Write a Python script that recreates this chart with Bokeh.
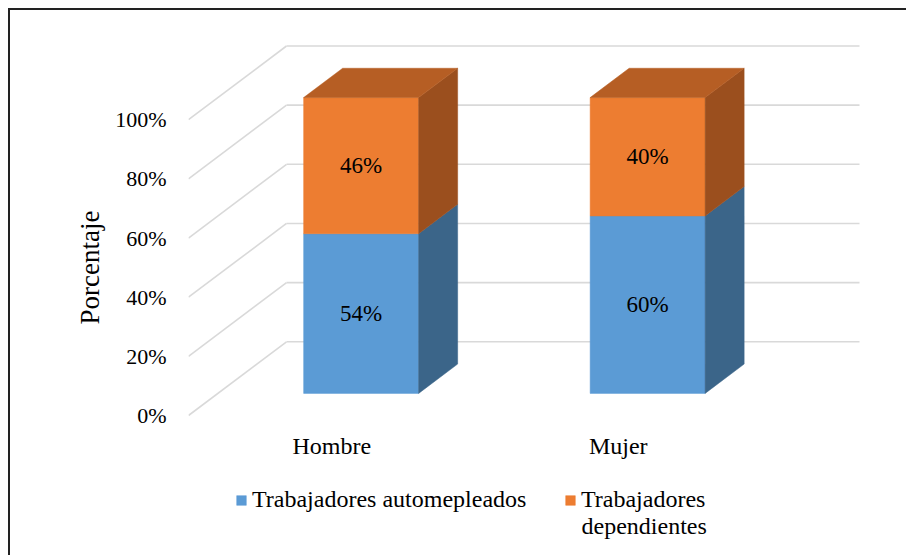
from bokeh.plotting import figure
from bokeh.models import (Range1d, FixedTicker, PrintfTickFormatter, Title,
                          Legend, LegendItem)
from bokeh.core.properties import value
from bokeh.embed import file_html
from bokeh.resources import INLINE

# ---------------- data ----------------
categories = ["Hombre", "Mujer"]
series_names = ["Trabajadores automepleados", "Trabajadores\ndependientes"]
automepleados = [54, 60]
dependientes = [46, 40]
y_ticks = [0, 20, 40, 60, 80, 100]

# ---------------- geometry ----------------
ORIG_X, ORIG_Y = 10, 10          # page position of the canvas
CANVAS_W, CANVAS_H = 898, 547
FRAME_L, FRAME_R, FRAME_T, FRAME_B = 188, 866, 30, 557   # page px
ZERO_Y = 415                      # page y of 0 % on the front plane
PX_X = 286.5                      # px per category unit
PX_Y = 2.958                      # px per percent
DEPTH_X = 98 / PX_X               # oblique depth vector (whole floor depth)
DEPTH_Y = 73.7 / PX_Y
D0, D1 = 0.30, 0.698              # bar depth span
BAR_W = 115 / PX_X

FONT = "Liberation Serif"
GRID = "#d9d9d9"
colors = {
    "blue": ("#5b9bd5", "#3b6589", "#4a7fb0"),
    "orange": ("#ed7d31", "#9b4f1e", "#b65e24"),
}


def ypx(page_y):
    return (ZERO_Y - page_y) / PX_Y


def xpx(page_x):
    return (page_x - FRAME_L) / PX_X


p = figure(width=CANVAS_W, height=CANVAS_H, output_backend="svg",
           toolbar_location=None,
           x_range=Range1d(0, xpx(FRAME_R)),
           y_range=Range1d(ypx(FRAME_B), ypx(FRAME_T)),
           min_border_left=FRAME_L - ORIG_X,
           min_border_right=ORIG_X + CANVAS_W - FRAME_R,
           min_border_top=FRAME_T - ORIG_Y,
           min_border_bottom=ORIG_Y + CANVAS_H - FRAME_B)
p.styles = {"margin-left": "8px", "margin-top": "8px",
            "border-top": "2px solid #222222", "border-left": "2px solid #222222"}
p.outline_line_color = None
p.xgrid.visible = False
p.ygrid.visible = False
p.xaxis.visible = False
p.background_fill_color = "white"
p.border_fill_color = "white"

# y axis
p.yaxis.ticker = FixedTicker(ticks=y_ticks)
p.yaxis.formatter = PrintfTickFormatter(format="%d%%")
p.yaxis.axis_line_color = None
p.yaxis.major_tick_line_color = None
p.yaxis.minor_tick_line_color = None
p.yaxis.major_tick_out = 0
p.yaxis.major_tick_in = 0
p.yaxis.major_label_standoff = 22
p.yaxis.major_label_text_font = FONT
p.yaxis.major_label_text_font_size = "22px"
p.yaxis.major_label_text_color = "black"

# axis title
p.add_layout(Title(text="Porcentaje", align="left", offset=FRAME_B - 324, standoff=16,
                   text_font=FONT, text_font_size="27px", text_font_style="normal",
                   text_color="black"), "left")

# walls: side-wall diagonals and back-wall horizontals
n_cat = len(categories)
p.segment(x0=[0] * len(y_ticks), y0=y_ticks,
          x1=[DEPTH_X] * len(y_ticks), y1=[t + DEPTH_Y for t in y_ticks],
          line_color=GRID, line_width=1.6)
p.segment(x0=[DEPTH_X] * len(y_ticks), y0=[t + DEPTH_Y for t in y_ticks],
          x1=[n_cat + DEPTH_X] * len(y_ticks), y1=[t + DEPTH_Y for t in y_ticks],
          line_color=GRID, line_width=1.6)

# 3D stacked bars
cat_pos = [i + 0.5 for i in range(n_cat)]
ddx = (D1 - D0) * DEPTH_X
ddy = (D1 - D0) * DEPTH_Y
yb = D0 * DEPTH_Y
legend_renderers = {}
for i, c in enumerate(cat_pos):
    xc = c + D0 * DEPTH_X
    xl, xr = xc - BAR_W / 2, xc + BAR_W / 2
    bottom = 0
    segs = [(automepleados[i], "blue"), (dependientes[i], "orange")]
    for k, (v, col) in enumerate(segs):
        front, side, top = colors[col]
        y0, y1 = yb + bottom, yb + bottom + v
        r = p.patch([xl, xr, xr, xl], [y0, y0, y1, y1], fill_color=front,
                    line_color=front, line_width=0.5)
        legend_renderers.setdefault(col, r)
        p.patch([xr, xr + ddx, xr + ddx, xr], [y0, y0 + ddy, y1 + ddy, y1],
                fill_color=side, line_color=side, line_width=0.5)
        if k == len(segs) - 1:
            p.patch([xl, xr, xr + ddx, xl + ddx], [y1, y1, y1 + ddy, y1 + ddy],
                    fill_color=top, line_color=top, line_width=0.5)
        p.text(x=[xc], y=[(y0 + y1) / 2], text=[f"{v}%"], text_align="center",
               text_baseline="middle", text_font=value(FONT),
               text_font_size="23px", text_color="black")
        bottom += v

# category labels at the front edge of the floor
p.text(x=cat_pos, y=[ypx(445)] * n_cat, text=categories, text_align="center",
       text_baseline="alphabetic", text_font=value(FONT),
       text_font_size="24px", text_color="black")


# legends
def make_legend(name, col, loc):
    lg = Legend(items=[LegendItem(label=name, renderers=[legend_renderers[col]])],
                location=loc, orientation="horizontal", padding=0, margin=0,
                border_line_color=None, background_fill_alpha=0,
                glyph_width=12, glyph_height=12, label_standoff=5,
                label_text_font=FONT, label_text_font_size="24px",
                label_text_color="black")
    p.add_layout(lg, "center")


dep_lines = series_names[1].split("\n")
make_legend(series_names[0], "blue", (235 - FRAME_L, FRAME_B - 513))
make_legend(dep_lines[0], "orange", (564 - FRAME_L, FRAME_B - 513))
p.text(x=[xpx(581)], y=[ypx(525)], text=[dep_lines[1]], text_align="left",
       text_baseline="alphabetic", text_font=value(FONT),
       text_font_size="24px", text_color="black")

open("out.html", "w").write(file_html(p, INLINE))
